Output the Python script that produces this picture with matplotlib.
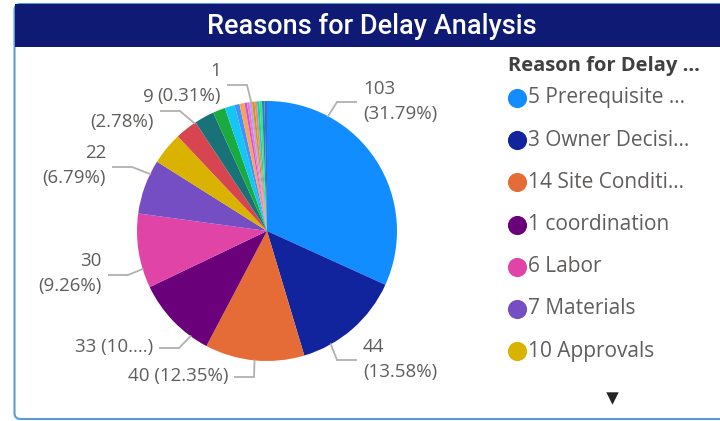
import numpy as np
import matplotlib.pyplot as plt
from matplotlib.patches import FancyBboxPatch, Rectangle

# slice values, clockwise from 12 o'clock (total 324)
values = [103, 44, 40, 33, 30, 22, 13, 9, 8, 5, 4, 2, 2, 1, 1, 1, 1, 1, 1, 1, 1, 1]
colors = ['#118DFF', '#12239E', '#E66C37', '#6B007B', '#E044A7', '#744EC2', '#D9B300',
          '#D64550', '#197278', '#1AAB40', '#15C6F4', '#4092FF', '#FFA058', '#BE5DC9',
          '#F472D0', '#B5A1FF', '#C4A200', '#FF8080', '#00DBBC', '#5BD667', '#0091D5',
          '#4668C5']
legend_names = ['5 Prerequisite ...', '3 Owner Decisi...', '14 Site Conditi...',
                '1 coordination', '6 Labor', '7 Materials', '10 Approvals']
label_texts = ['103\n(31.79%)', '44\n(13.58%)', '40 (12.35%)', '33 (10....)',
               '30\n(9.26%)', '22\n(6.79%)', '9\n(2.78%)', '1\n(0.31%)']

W, H = 720, 421
fig = plt.figure(figsize=(W / 100, H / 100), dpi=100)
ax = fig.add_axes([0, 0, 1, 1])

def Y(y):
    return H - y

font = 'Open Sans'
txt_col = '#605E5C'
line_col = '#B3B0AD'

# card + title bar
card = FancyBboxPatch((14.5, Y(419)), 720, 415, boxstyle='round,pad=0,rounding_size=6',
                      fc='white', ec='#5B9BD5', lw=1.5, zorder=0)
ax.add_patch(card)
ax.add_patch(Rectangle((15, Y(47)), 705, 43, fc='#0E1A73', ec='none', zorder=1))
ax.text(372, Y(26), 'Reasons for Delay Analysis', color='white', fontsize=19.5,
        family='Roboto', weight='medium', ha='center', va='center', zorder=2)

# pie
cx, cy, r = 267, Y(231), 130
ax.pie(values, colors=colors, startangle=90, counterclock=False, center=(cx, cy),
       radius=r, wedgeprops=dict(linewidth=0), frame=True)

# data labels with leader lines (anchor angle in degrees, text x, leader y, side)
label_layout = [(62, 363, 102, 'l'), (-60.6, 363, 360, 'l'), (-95.5, 228, 377, 'r'),
                (-126, 153, 348, 'r'), (-163, 102, 275, 'r'), (154, 106, 167, 'r'),
                (124, 154, 111, 'r'), (97, 221, 85, 'r')]
for txt, (ang, tx, ly, side) in zip(label_texts, label_layout):
    a = np.radians(ang)
    px, py = cx + r * np.cos(a), cy + r * np.sin(a)
    if side == 'l':
        ex0, ex1 = tx - 26, tx - 6
        ex_near = ex0
    else:
        ex0, ex1 = tx + 6, tx + 26
        ex_near = ex1
    ax.plot([ex0, ex1], [Y(ly), Y(ly)], color=line_col, lw=1.3, solid_capstyle='butt')
    ax.plot([ex_near, px], [Y(ly), py], color=line_col, lw=1.3)
    ha = 'left' if side == 'l' else 'right'
    ax.text(tx, Y(ly) + 1, txt, ha=ha, va='center', multialignment=ha,
            fontsize=13.5, family=font, color=txt_col, linespacing=1.5)

# legend
ax.text(508, Y(66), 'Reason for Delay ...', fontsize=14.5, family=font, weight='bold',
        color='#404040', ha='left', va='center')
for i, name in enumerate(legend_names):
    yy = Y(98 + i * 42.2)
    ax.scatter([517], [yy], s=190, color=colors[i], zorder=3, linewidths=0)
    ax.text(528, yy, name, fontsize=15, family=font, color=txt_col, ha='left', va='center')
ax.scatter([612], [Y(398)], marker='v', s=80, color='#252423', linewidths=0)

ax.set_xlim(0, W)
ax.set_ylim(0, H)
ax.set_aspect('auto')
ax.axis('off')
fig.savefig('out.png', dpi=100, facecolor='white')
